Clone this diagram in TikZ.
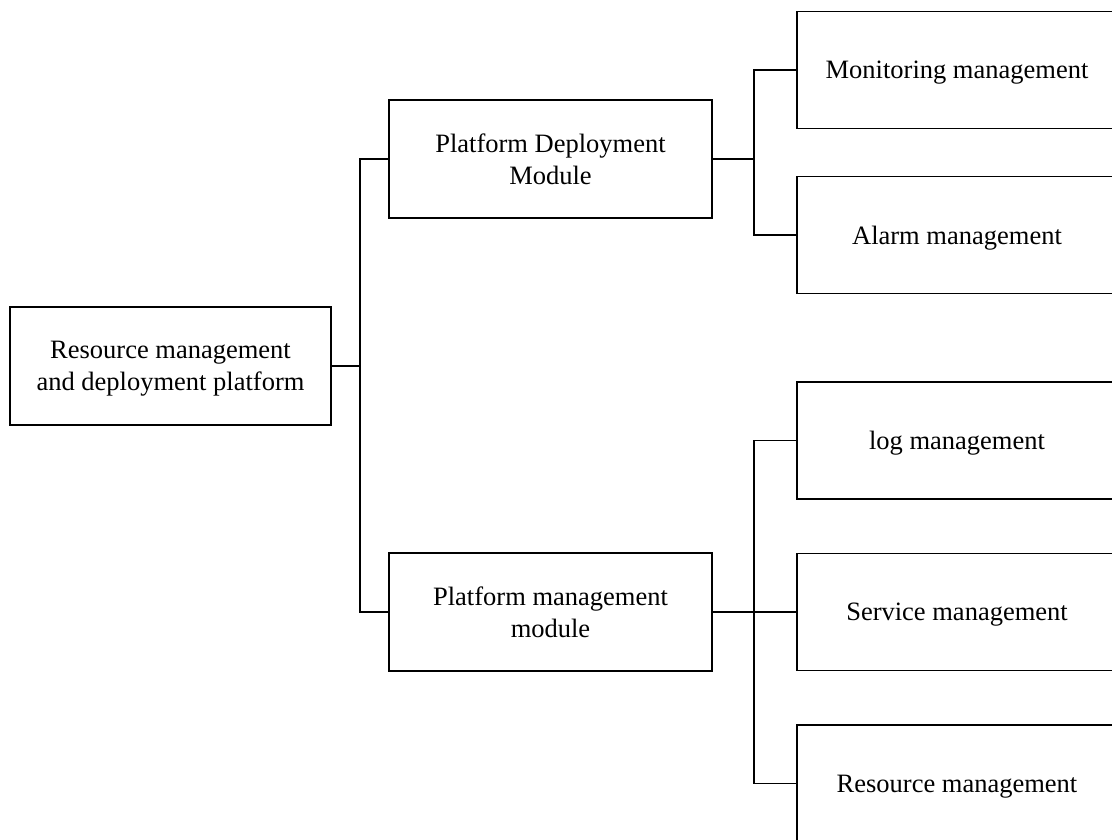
\documentclass[tikz,border=0pt]{standalone}
\usepackage{fontspec}
\setmainfont{Liberation Serif}
\begin{document}
\begin{tikzpicture}[x=1pt,y=-1pt,
  box/.style={draw, line width=1.3pt, align=center, font=\fontsize{26.5}{32}\selectfont,
    inner sep=0pt, outer sep=0pt, text depth=0pt},
  wire/.style={line width=1.3pt}]
\useasboundingbox (0,0) rectangle (1112,840);
\clip (0,0) rectangle (1112,840);

% root and first level
\node[box, minimum width=321pt, minimum height=118pt] (root) at (170.5,366) {Resource management\\and deployment platform};
\node[box, minimum width=323pt, minimum height=118pt] (pdm) at (550.5,159) {Platform Deployment\\Module};
\node[box, minimum width=323pt, minimum height=118pt] (pmm) at (550.5,612) {Platform management\\module};

% second level (boxes run past the right edge)
\node[box, minimum width=320pt, minimum height=117pt] (mon) at (957,70) {Monitoring management};
\node[box, minimum width=320pt, minimum height=117pt] (alm) at (957,235) {Alarm management};
\node[box, minimum width=320pt, minimum height=117pt] (log) at (957,440.5) {log management};
\node[box, minimum width=320pt, minimum height=117pt] (svc) at (957,612) {Service management};
\node[box, minimum width=320pt, minimum height=117pt] (res) at (957,783.5) {Resource management};

% connectors
\draw[wire] (root.east) -- ++(29,0) coordinate (j1);
\draw[wire] (pdm.west) -| (j1) |- (pmm.west);

\draw[wire] (pdm.east) -- ++(42,0) coordinate (j2);
\draw[wire] (mon.west) -| (j2) |- (alm.west);

\draw[wire] (pmm.east) -- ++(42,0) coordinate (j3);
\draw[wire] (log.west) -| (j3) |- (res.west);
\draw[wire] (j3) -- (svc.west);
\end{tikzpicture}
\end{document}
